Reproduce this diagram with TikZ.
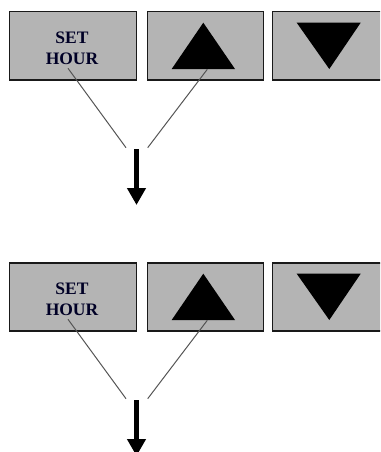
\documentclass[tikz,border=0pt]{standalone}
\usepackage{fontspec}
\setmainfont{Liberation Serif}
\usetikzlibrary{arrows.meta}
\definecolor{btngray}{RGB}{180,180,180}
\definecolor{btnedge}{RGB}{25,25,25}
\definecolor{wire}{RGB}{85,85,85}
\tikzset{
  btn/.style={draw=btnedge, fill=btngray, line width=1.5pt, rectangle, inner sep=0pt, minimum height=68.3pt},
  lbl/.style={font=\fontsize{17.5}{21.5}\selectfont\bfseries, align=center, text=black!85!blue, inner sep=0pt},
  wireline/.style={draw=wire, line width=1pt},
  bigarrow/.style={line width=4.5pt, -{Triangle[length=17pt,width=18pt]}},
  tri/.style={fill=black}
}
\begin{document}
\begin{tikzpicture}[x=1pt,y=-1pt]
\useasboundingbox (0,0) rectangle (380,452);
\clip (0,0) rectangle (380,452);
\foreach \i/\off in {1/0,2/251}{
  \begin{scope}[yshift=-\off pt]
    \node[btn, minimum width=127.4pt] (set\i) at (73,45.9) {};
    \node[btn, minimum width=115.6pt] (up\i) at (205.5,45.9) {};
    \node[btn, minimum width=125pt] (down\i) at (335,45.9) {};
    \node[lbl] (txt\i) at (72,48.3) {SET\\HOUR};
    \fill[tri] (203.3,22.7) -- (235,69) -- (171.7,69) -- cycle;
    \fill[tri] (296.7,22.7) -- (360.7,22.7) -- (329.3,69) -- cycle;
    \coordinate (a\i) at (68,68.3);
    \coordinate (b\i) at (207.3,69.3);
    \coordinate (la\i) at (126,147.7);
    \coordinate (lb\i) at (147.7,147.7);
    \coordinate (s\i) at (136.5,149);
    \coordinate (t\i) at (136.5,205);
    \draw[wireline] (a\i) -- (la\i);
    \draw[wireline] (b\i) -- (lb\i);
    \draw[bigarrow] (s\i) -- (t\i);
  \end{scope}
}
\end{tikzpicture}
\end{document}
